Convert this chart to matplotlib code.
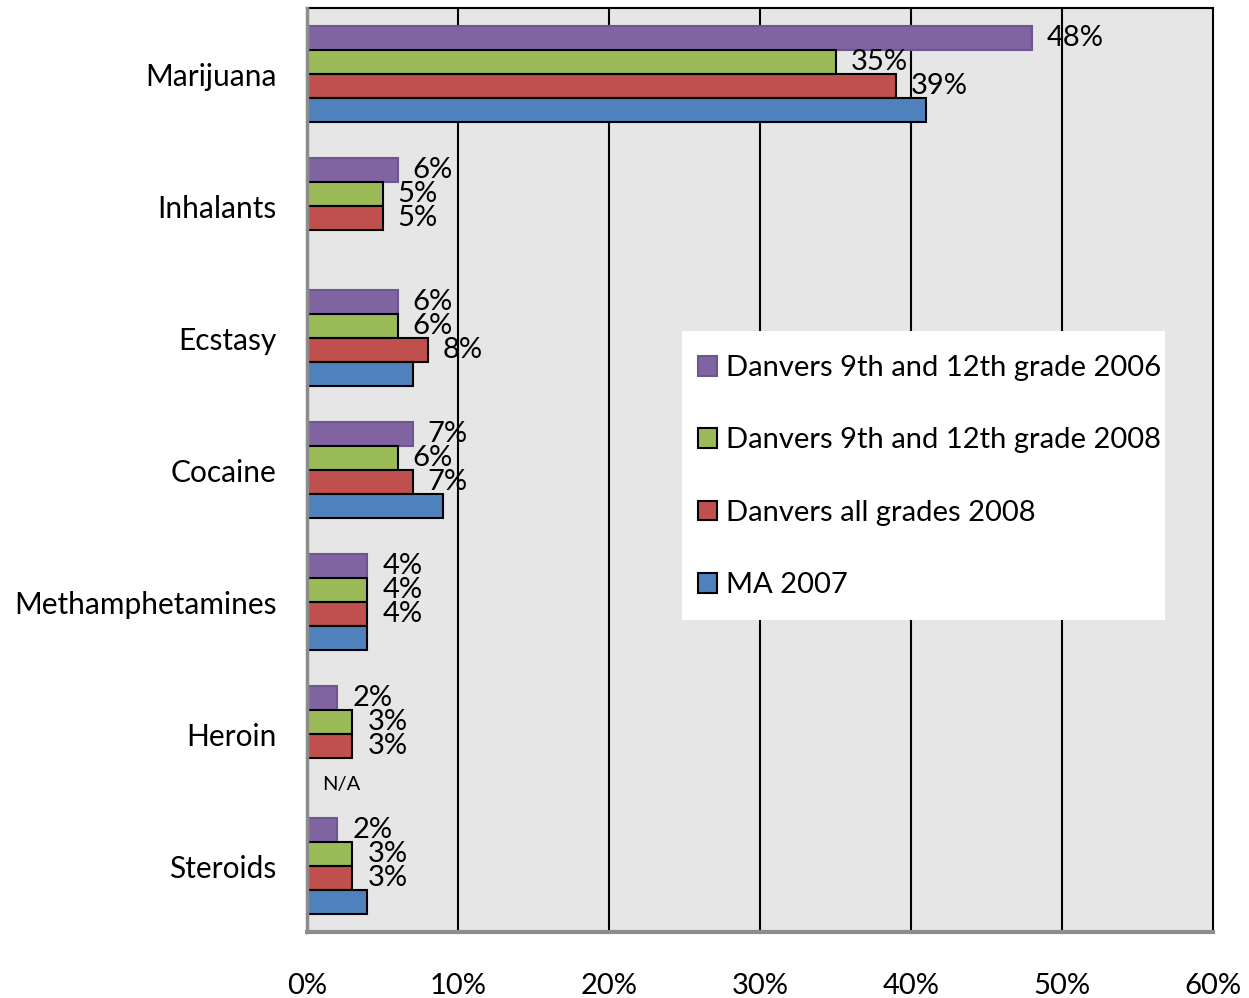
import numpy as np
import matplotlib
matplotlib.use("Agg")
import matplotlib.pyplot as plt
from matplotlib.patches import Patch, Rectangle

categories = ["Marijuana", "Inhalants", "Ecstasy", "Cocaine",
              "Methamphetamines", "Heroin", "Steroids"]
series_names = ["Danvers 9th and 12th grade 2006",
                "Danvers 9th and 12th grade 2008",
                "Danvers all grades 2008",
                "MA 2007"]
d2006 = [48, 6, 6, 7, 4, 2, 2]
d2008 = [35, 5, 6, 6, 4, 3, 3]
dall2008 = [39, 5, 8, 7, 4, 3, 3]
ma2007 = [41, np.nan, 7, 9, 4, np.nan, 4]
na_category = "Heroin"
xticks = [0, 10, 20, 30, 40, 50, 60]

colors = ["#8064A2", "#9BBB59", "#C0504D", "#4F81BD"]
edges = ["#6E5590", "#000000", "#000000", "#000000"]
label_series = [True, True, True, False]

plt.rcParams['font.family'] = ['Lato', 'DejaVu Sans']

W, H = 1249, 998
L, R, T, B = 307, 1213, 8, 932
fig = plt.figure(figsize=(W/100, H/100), dpi=100)
ax = fig.add_axes([L/W, 1-B/H, (R-L)/W, (B-T)/H])
ax.set_facecolor("#E6E6E6")

h = 24/132
y = np.arange(len(categories))
data = [d2006, d2008, dall2008, ma2007]
offsets = [-1.5*h, -0.5*h, 0.5*h, 1.5*h]
for vals, c, ec, off, lab in zip(data, colors, edges, offsets, label_series):
    v = np.array(vals, dtype=float)
    ax.barh(y + off, np.nan_to_num(v), height=h, color=c, edgecolor=ec,
            linewidth=1.5, zorder=3)
    if lab:
        for yi, vi in zip(y + off, v):
            if not np.isnan(vi):
                ax.annotate(f"{vi:.0f}%", (vi, yi), xytext=(15, 0),
                            textcoords="offset pixels",
                            va="center", ha="left", fontsize=21, zorder=5)

# N/A label
ni = categories.index(na_category)
ax.annotate("N/A", (1, ni + offsets[3]), xytext=(0, -14), textcoords="offset pixels",
            va="center", ha="left", fontsize=14.5, zorder=5)

ax.set_xlim(0, 60)
ax.set_ylim(len(categories) - 0.5, -0.5)
ax.set_xticks(xticks)
ax.set_xticklabels([f"{t}%" for t in xticks],
                   family=['Liberation Sans Narrow', 'Lato', 'DejaVu Sans'],
                   fontsize=21)
ax.set_yticks(y)
ax.set_yticklabels(categories, fontsize=21.5)
ax.tick_params(axis='x', length=0, pad=29.5)
ax.tick_params(axis='y', length=0, pad=22)
for xv in xticks[1:-1]:
    ax.axvline(xv, color="black", linewidth=1.5, zorder=2)

ax.spines['top'].set_color("black")
ax.spines['top'].set_linewidth(1.5)
ax.spines['right'].set_color("black")
ax.spines['right'].set_linewidth(1.5)
ax.spines['left'].set_color("#8C8C8C")
ax.spines['left'].set_linewidth(2.5)
ax.spines['left'].set_zorder(4)
ax.spines['bottom'].set_color("#8C8C8C")
ax.spines['bottom'].set_linewidth(3)
ax.spines['bottom'].set_zorder(4)

# white legend box
lx0, lx1, ly0, ly1 = 682, 1165, 331, 620
ax.add_patch(Rectangle(((lx0-L)/(R-L), (B-ly1)/(B-T)), (lx1-lx0)/(R-L), (ly1-ly0)/(B-T),
                       transform=ax.transAxes, facecolor="white", edgecolor="none",
                       zorder=5))

handles = [Patch(facecolor=c, edgecolor=ec, linewidth=1.5) for c, ec in zip(colors, edges)]
leg = ax.legend(handles, series_names, loc="upper left",
                bbox_to_anchor=((lx0-L)/(R-L), (B-339)/(B-T)),
                fontsize=21, frameon=False,
                handlelength=0.65, handleheight=0.65, handletextpad=0.3,
                labelspacing=1.59, borderpad=0.55, borderaxespad=0)
leg.set_zorder(6)

fig.savefig("out.png", dpi=100)
